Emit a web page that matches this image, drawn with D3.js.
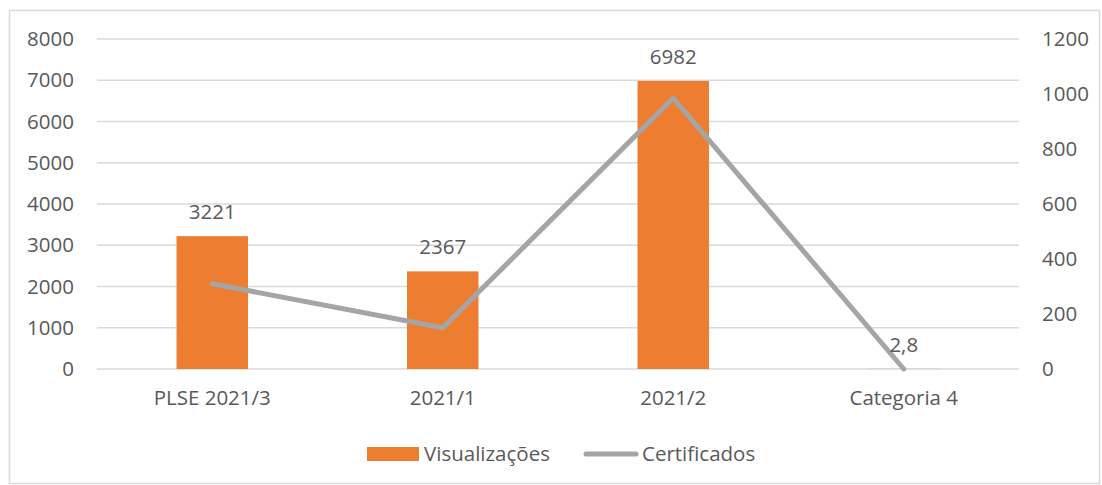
<!DOCTYPE html>
<html>
<head>
<meta charset="utf-8">
<script src="https://cdn.jsdelivr.net/npm/d3@7"></script>
<style>
  body { margin: 0; background: #fff; }
  svg text { font-family: "Open Sans", "Liberation Sans", sans-serif; fill: #595959; }
</style>
</head>
<body>
<div id="chart"></div>
<script>
// dados
var categorias = ["PLSE 2021/3", "2021/1", "2021/2", "Categoria 4"];
var visualizacoes = [3221, 2367, 6982, 2.8];
var rotulosVis = ["3221", "2367", "6982", "2,8"];
var certificados = [310, 150, 985, 0];
var ticksEsq = [0, 1000, 2000, 3000, 4000, 5000, 6000, 7000, 8000];
var ticksDir = [0, 200, 400, 600, 800, 1000, 1200];

var width = 1102, height = 485;
var fs = "20.5px";
var svg = d3.select("#chart").append("svg")
    .attr("width", width)
    .attr("height", height);

// moldura
svg.append("rect")
    .attr("x", 9.5).attr("y", 10.5)
    .attr("width", 1090).attr("height", 473)
    .attr("fill", "#fff")
    .attr("stroke", "#d9d9d9")
    .attr("stroke-width", 1.5);

var x = d3.scaleBand().domain(categorias).range([97, 1019]).paddingInner(0.69).paddingOuter(0.345);
var yL = d3.scaleLinear().domain([0, 8000]).range([369, 39]);
var yR = d3.scaleLinear().domain([0, 1200]).range([369, 39]);

// linhas de grade
svg.append("g").selectAll("line")
    .data(ticksEsq)
    .enter().append("line")
    .attr("x1", 97).attr("x2", 1019)
    .attr("y1", function(d) { return yL(d); })
    .attr("y2", function(d) { return yL(d); })
    .attr("stroke", "#d9d9d9")
    .attr("stroke-width", 1.3);

// eixos
var eixoEsq = svg.append("g")
    .attr("transform", "translate(84,0)")
    .call(d3.axisLeft(yL).tickValues(ticksEsq).tickFormat(d3.format("d")).tickSize(0).tickPadding(10));
var eixoDir = svg.append("g")
    .attr("transform", "translate(1032,0)")
    .call(d3.axisRight(yR).tickValues(ticksDir).tickFormat(d3.format("d")).tickSize(0).tickPadding(10));
var eixoX = svg.append("g")
    .attr("transform", "translate(0,369)")
    .call(d3.axisBottom(x).tickSize(0).tickPadding(21));
[eixoEsq, eixoDir, eixoX].forEach(function(g) {
    g.select(".domain").remove();
    g.selectAll("text")
        .style("font-size", fs)
        .style("font-family", "'Open Sans', sans-serif")
        .attr("fill", "#595959");
});

// barras
svg.append("g").selectAll("rect")
    .data(visualizacoes)
    .enter().append("rect")
    .attr("x", function(d, i) { return x(categorias[i]); })
    .attr("width", x.bandwidth())
    .attr("y", function(d) { return yL(d); })
    .attr("height", function(d) { return yL(0) - yL(d); })
    .attr("fill", "#ed7d31");

// linha
var linha = d3.line()
    .x(function(d, i) { return x(categorias[i]) + x.bandwidth() / 2; })
    .y(function(d) { return yR(d); });

svg.append("path")
    .attr("d", linha(certificados))
    .attr("fill", "none")
    .attr("stroke", "#a5a5a5")
    .attr("stroke-width", 5)
    .attr("stroke-linejoin", "round")
    .attr("stroke-linecap", "round");

// rótulos das barras
svg.append("g").selectAll("text")
    .data(visualizacoes)
    .enter().append("text")
    .attr("x", function(d, i) { return x(categorias[i]) + x.bandwidth() / 2; })
    .attr("y", function(d) { return yL(d) - 17; })
    .attr("text-anchor", "middle")
    .style("font-size", fs)
    .attr("fill", "#404040")
    .text(function(d, i) { return rotulosVis[i]; });

// legenda
var leg = svg.append("g");
leg.append("rect")
    .attr("x", 367).attr("y", 447)
    .attr("width", 52).attr("height", 14)
    .attr("fill", "#ed7d31");
leg.append("text")
    .attr("x", 424).attr("y", 461)
    .style("font-size", fs)
    .text("Visualizações");
leg.append("line")
    .attr("x1", 586).attr("x2", 636)
    .attr("y1", 454).attr("y2", 454)
    .attr("stroke", "#a5a5a5")
    .attr("stroke-width", 5)
    .attr("stroke-linecap", "round");
leg.append("text")
    .attr("x", 642).attr("y", 461)
    .style("font-size", fs)
    .text("Certificados");
</script>
</body>
</html>
